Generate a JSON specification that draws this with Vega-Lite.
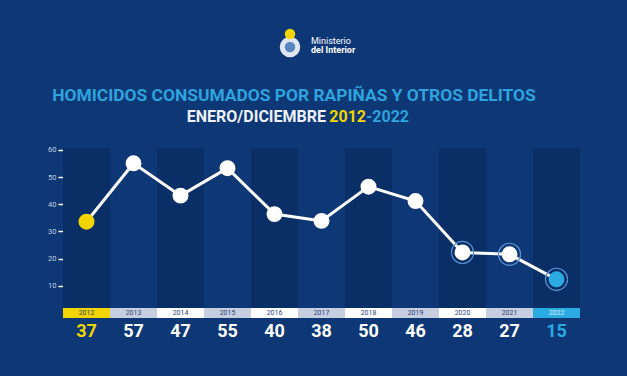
{
  "$schema": "https://vega.github.io/schema/vega-lite/v6.json",
  "background": "#0d3775",
  "padding": {"left": 47, "right": 48, "top": 0, "bottom": 30},
  "bounds": "flush",
  "spacing": 0,
  "config": {"view": {"stroke": null}, "font": "Roboto"},
  "data": {
    "values": [
      {"year": 2012, "total": 37, "y": 33.6},
      {"year": 2013, "total": 57, "y": 55.1},
      {"year": 2014, "total": 47, "y": 43.2},
      {"year": 2015, "total": 55, "y": 53.3},
      {"year": 2016, "total": 40, "y": 36.4},
      {"year": 2017, "total": 38, "y": 33.9},
      {"year": 2018, "total": 50, "y": 46.5},
      {"year": 2019, "total": 46, "y": 41.2},
      {"year": 2020, "total": 28, "y": 22.3},
      {"year": 2021, "total": 27, "y": 21.6},
      {"year": 2022, "total": 15, "y": 12.4}
    ]
  },
  "vconcat": [
    {
      "width": 517,
      "height": 148,
      "data": {"values": [{}]},
      "layer": [
        {"mark": {"type": "point", "filled": true, "size": 420, "color": "#dfe6f2", "opacity": 1, "xOffset": -31.5, "yOffset": -27}},
        {"mark": {"type": "point", "filled": true, "size": 110, "color": "#5a86c0", "opacity": 1, "xOffset": -31.5, "yOffset": -27}},
        {"mark": {"type": "point", "filled": true, "size": 110, "color": "#f2d500", "opacity": 1, "xOffset": -31.5, "yOffset": -40}},
        {"mark": {"type": "text", "text": "Ministerio", "fontSize": 9, "color": "white", "align": "left", "baseline": "middle", "dx": -10.5, "dy": -33.5}},
        {"mark": {"type": "text", "text": "del Interior", "fontSize": 9, "fontWeight": "bold", "color": "white", "align": "left", "baseline": "middle", "dx": -10.5, "dy": -24.5}},
        {"mark": {"type": "text", "text": "HOMICIDOS CONSUMADOS POR RAPIÑAS Y OTROS DELITOS", "fontSize": 17.4, "fontWeight": "bold", "color": "#2ea3dd", "align": "center", "baseline": "middle", "dx": -27.5, "dy": 22}},
        {"mark": {"type": "text", "text": "ENERO/DICIEMBRE", "fontSize": 16, "fontWeight": "bold", "color": "#eef2f8", "align": "right", "baseline": "middle", "dx": 4.5, "dy": 42.5}},
        {"mark": {"type": "text", "text": "2012", "fontSize": 16, "fontWeight": "bold", "color": "#f2d500", "align": "right", "baseline": "middle", "dx": 44.5, "dy": 42.5}},
        {"mark": {"type": "text", "text": "-2022", "fontSize": 16, "fontWeight": "bold", "color": "#2ea3dd", "align": "left", "baseline": "middle", "dx": 44.5, "dy": 42.5}}
      ]
    },
    {
      "width": 517,
      "height": 160,
      "encoding": {
        "x": {"field": "year", "type": "ordinal", "axis": null, "scale": {"type": "band", "paddingInner": 0, "paddingOuter": 0}}
      },
      "layer": [
        {
          "mark": {"type": "rect"},
          "encoding": {
            "fill": {"condition": {"test": "datum.year % 2 == 0", "value": "#0a2e66"}, "value": "transparent"}
          }
        },
        {
          "mark": {"type": "line", "color": "white", "strokeWidth": 3},
          "encoding": {
            "y": {
              "field": "y", "type": "quantitative",
              "scale": {"domain": [1.84, 60.73], "nice": false, "zero": false},
              "axis": {"values": [10, 20, 30, 40, 50, 60], "tickCount": 12, "labelOverlap": false, "domain": false, "grid": false, "ticks": true, "tickColor": "white", "tickSize": 5, "tickWidth": 1.5, "labelColor": "#c3cfe6", "labelFontSize": 7.5, "labelPadding": 2, "title": null}
            }
          }
        },
        {
          "mark": {"type": "point", "filled": false, "size": 490, "strokeWidth": 1.2, "opacity": 1},
          "encoding": {
            "y": {"field": "y", "type": "quantitative"},
            "stroke": {"condition": {"test": "datum.year >= 2020", "value": "#5a8fd0"}, "value": "transparent"}
          }
        },
        {
          "mark": {"type": "circle", "size": 254, "opacity": 1},
          "encoding": {
            "y": {"field": "y", "type": "quantitative"},
            "color": {"condition": [{"test": "datum.year == 2012", "value": "#f2d500"}, {"test": "datum.year == 2022", "value": "#29abe2"}], "value": "white"}
          }
        }
      ]
    },
    {
      "width": 517,
      "height": 10,
      "encoding": {
        "x": {"field": "year", "type": "ordinal", "axis": null, "scale": {"type": "band", "paddingInner": 0, "paddingOuter": 0}}
      },
      "layer": [
        {
          "mark": {"type": "rect"},
          "encoding": {
            "fill": {"condition": [{"test": "datum.year == 2012", "value": "#f2d500"}, {"test": "datum.year == 2022", "value": "#29abe2"}, {"test": "datum.year % 2 == 1", "value": "#c6cee0"}], "value": "white"}
          }
        },
        {
          "mark": {"type": "text", "fontSize": 7, "baseline": "middle"},
          "encoding": {
            "text": {"field": "year", "type": "nominal"},
            "color": {"condition": {"test": "datum.year == 2022", "value": "#d8eefa"}, "value": "#2b4478"}
          }
        }
      ]
    },
    {
      "width": 517,
      "height": 28,
      "mark": {"type": "text", "fontSize": 18, "fontWeight": "bold", "baseline": "middle"},
      "encoding": {
        "x": {"field": "year", "type": "ordinal", "axis": null, "scale": {"type": "band", "paddingInner": 0, "paddingOuter": 0}},
        "text": {"field": "total", "type": "nominal"},
        "color": {"condition": [{"test": "datum.year == 2012", "value": "#f2d500"}, {"test": "datum.year == 2022", "value": "#29abe2"}], "value": "white"}
      }
    }
  ]
}
